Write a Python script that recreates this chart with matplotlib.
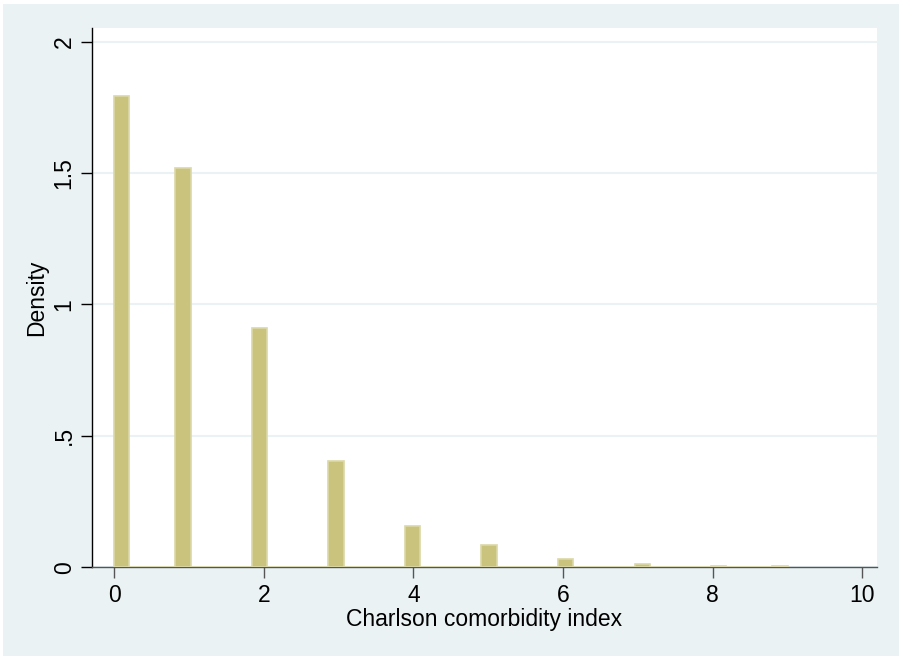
import numpy as np
import matplotlib
matplotlib.use("Agg")
from matplotlib import pyplot as plt
from matplotlib.patches import Rectangle

# Charlson comorbidity index values and their histogram density
charlson = [0, 1, 2, 3, 4, 5, 6, 7, 8, 9]
density = [1.795, 1.521, 0.909, 0.403, 0.156, 0.084, 0.030, 0.011, 0.005, 0.005]
n_bins = 44

y_ticks = [0, 0.5, 1, 1.5, 2]
y_tick_labels = ["0", ".5", "1", "1.5", "2"]
x_ticks = [0, 2, 4, 6, 8, 10]

bg = "#EAF2F3"
bar_fill = "#C9C37D"
bar_edge = "#DCD8A8"

plt.rcParams["font.family"] = ["Liberation Sans", "DejaVu Sans"]

fig = plt.figure(figsize=(8.99, 6.56), dpi=100)
fig.patch.set_facecolor(bg)
# thin white strips at top and left edges of the outer region
fig.patches.append(Rectangle((0, 1 - 4 / 656), 1, 4 / 656, transform=fig.transFigure,
                             facecolor="white", edgecolor="none", zorder=0))
fig.patches.append(Rectangle((0, 0), 3 / 899, 1, transform=fig.transFigure,
                             facecolor="white", edgecolor="none", zorder=0))

ax = fig.add_axes([92.3 / 899, 1 - 567.3 / 656, (876.7 - 92.3) / 899, (567.3 - 28) / 656])
ax.set_facecolor("white")

ax.hist(charlson, bins=n_bins, range=(0, 9), weights=density,
        color=bar_fill, edgecolor=bar_edge, linewidth=1.2, zorder=3)

ax.set_xlim(-0.29, 10.19)
ax.set_ylim(0, 2.052)

ax.set_yticks(y_ticks)
ax.set_yticklabels(y_tick_labels, rotation=90, va="center")
ax.set_xticks(x_ticks)
ax.yaxis.grid(True, color=bg, linewidth=1.5, zorder=1)
ax.set_axisbelow(True)

for side in ("top", "right"):
  ax.spines[side].set_visible(False)
ax.spines["left"].set_color("black")
ax.spines["left"].set_linewidth(1.0)
ax.spines["bottom"].set_color("#555555")
ax.spines["bottom"].set_linewidth(1.0)

ax.tick_params(axis="both", direction="out", length=8, width=1.0,
               labelsize=16.5, colors="black", pad=4)
ax.tick_params(axis="x", color="#555555")

ax.set_ylabel("Density", fontsize=16.5, labelpad=3)
ax.set_xlabel("Charlson comorbidity index", fontsize=16.5, labelpad=1)

plt.savefig("out.png", dpi=100, facecolor=fig.get_facecolor())
